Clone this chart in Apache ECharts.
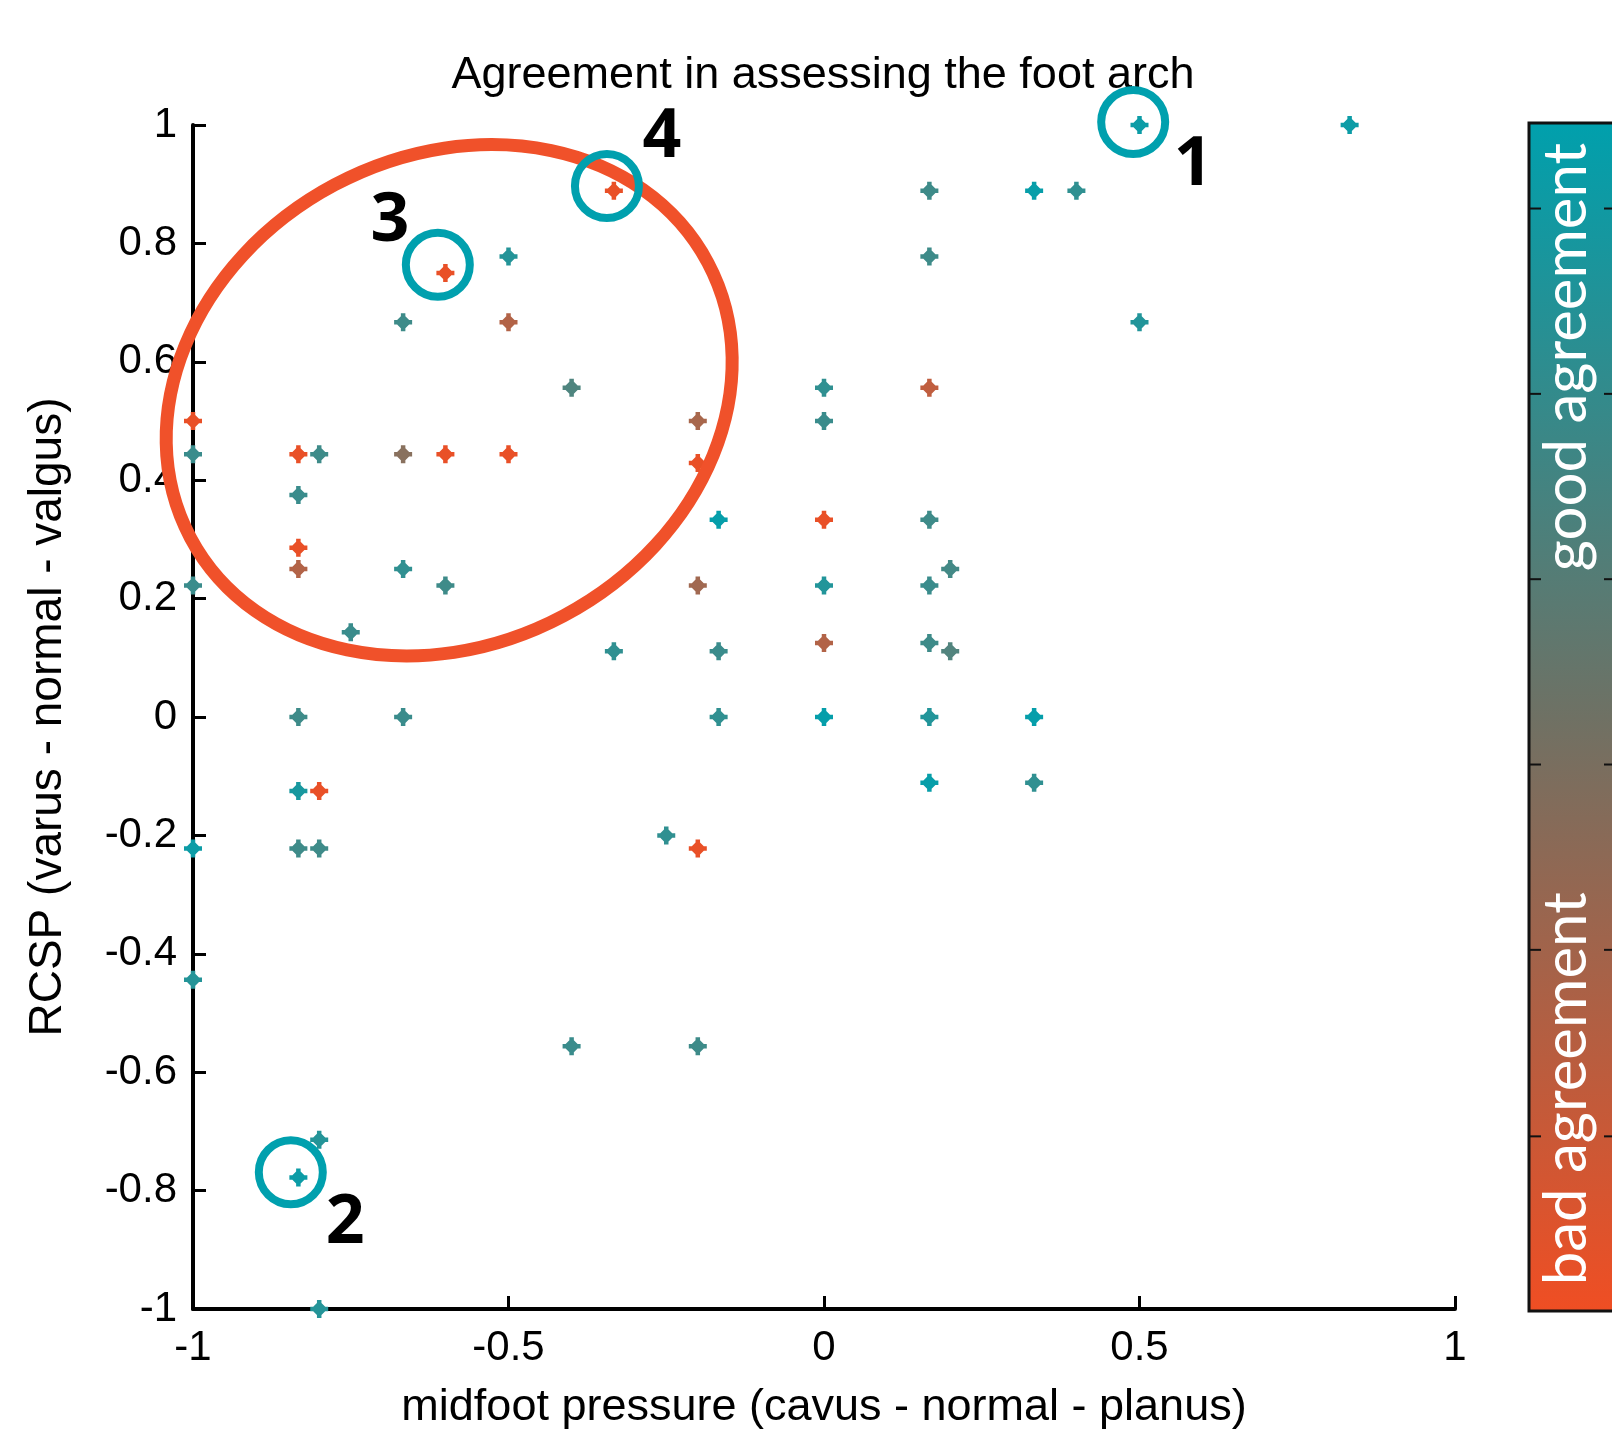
<!DOCTYPE html>
<html>
<head>
<meta charset="utf-8">
<title>Agreement in assessing the foot arch</title>
<script src="https://cdn.jsdelivr.net/npm/echarts@6/dist/echarts.min.js"></script>
<style>
	html, body { margin: 0; padding: 0; background: #fff; }
	#main { width: 1612px; height: 1430px; }
</style>
</head>
<body>
<div id="main"></div>
<script>
// midfoot pressure (x), RCSP (y), agreement (0 = bad, 1 = good)
var midfoot = [-1, -1, -1, -1, -1,
	-0.833, -0.833, -0.833, -0.833, -0.833, -0.833, -0.833, -0.833,
	-0.8, -0.8, -0.8, -0.8, -0.8, -0.75,
	-0.667, -0.667, -0.667, -0.667, -0.6, -0.6, -0.6,
	-0.5, -0.5, -0.5, -0.4, -0.4, -0.333, -0.333, -0.25,
	-0.2, -0.2, -0.2, -0.2, -0.2, -0.167, -0.167, -0.167,
	0, 0, 0, 0, 0, 0,
	0.167, 0.167, 0.167, 0.167, 0.167, 0.167, 0.167, 0.167,
	0.2, 0.2, 0.333, 0.333, 0.333, 0.4, 0.5, 0.5, 0.833];
var rcsp = [0.5, 0.444, 0.222, -0.222, -0.444,
	0.444, 0.375, 0.286, 0.25, 0, -0.125, -0.222, -0.778,
	0.444, -0.125, -0.222, -0.714, -1, 0.143,
	0.667, 0.444, 0.25, 0, 0.75, 0.444, 0.222,
	0.778, 0.667, 0.444, 0.556, -0.556, 0.889, 0.111, -0.2,
	0.5, 0.429, 0.222, -0.222, -0.556, 0.333, 0.111, 0,
	0.556, 0.5, 0.333, 0.222, 0.125, 0,
	0.889, 0.778, 0.556, 0.333, 0.222, 0.125, 0, -0.111,
	0.25, 0.111, 0.889, 0, -0.111, 0.889, 1, 0.667, 1];
var agreement = [0.03, 0.76, 0.76, 0.95, 0.85,
	0.03, 0.76, 0.03, 0.26, 0.74, 0.9, 0.74, 0.95,
	0.74, 0.03, 0.74, 0.85, 0.85, 0.76,
	0.74, 0.43, 0.8, 0.76, 0.03, 0.03, 0.74,
	0.85, 0.26, 0.03, 0.67, 0.76, 0.03, 0.8, 0.8,
	0.3, 0.03, 0.33, 0.03, 0.74, 0.98, 0.76, 0.8,
	0.8, 0.76, 0.03, 0.86, 0.26, 0.98,
	0.74, 0.74, 0.2, 0.74, 0.76, 0.74, 0.86, 0.97,
	0.72, 0.66, 0.97, 0.98, 0.8, 0.8, 0.95, 0.86, 0.95];

var xTicks = [-1, 1, 0.5];		// min, max, interval
var yTicks = [-1, 1, 0.2];

// highlighted cases (circle centre, label position) in data units
var caseNames = ['1', '2', '3', '4'];
var caseCircle = [[0.49, 1.005], [-0.845, -0.769], [-0.612, 0.764], [-0.344, 0.897]];
var caseLabel = [[0.585, 0.932], [-0.759, -0.855], [-0.688, 0.836], [-0.257, 0.978]];
var groupCentre = [-0.594, 0.535];

// colorbar ticks, fraction from the top
var barTicks = [0.072, 0.228, 0.384, 0.540, 0.696, 0.853];

var badColor = '#F04E23';
var goodColor = '#00A0AD';

var points = [];
for (var i = 0; i < midfoot.length; i++) {
	points.push([midfoot[i], rcsp[i], agreement[i]]);
}

var font = '"Liberation Sans", Arial, sans-serif';
var chart = echarts.init(document.getElementById('main'));

option = {
	backgroundColor: '#fff',
	animation: false,
	title: {
		text: 'Agreement in assessing the foot arch',
		left: 818,
		top: 48,
		textAlign: 'center',
		textStyle: { fontFamily: font, fontSize: 45, fontWeight: 'normal', color: '#000' }
	},
	grid: { left: 193, top: 125, width: 1262, height: 1184, outerBoundsMode: 'none' },
	visualMap: {
		show: false,
		type: 'continuous',
		dimension: 2,
		min: 0,
		max: 1,
		inRange: { color: [badColor, goodColor] }
	},
	xAxis: {
		type: 'value',
		min: xTicks[0], max: xTicks[1], interval: xTicks[2],
		name: 'midfoot pressure (cavus - normal - planus)',
		nameLocation: 'middle',
		nameGap: 76,
		nameTextStyle: { fontFamily: font, fontSize: 45, color: '#000' },
		axisLine: { onZero: false, lineStyle: { color: '#000', width: 4 } },
		axisTick: { inside: true, length: 13, lineStyle: { color: '#000', width: 3 } },
		axisLabel: { fontFamily: font, fontSize: 42, color: '#000', margin: 18 },
		splitLine: { show: false }
	},
	yAxis: {
		type: 'value',
		min: yTicks[0], max: yTicks[1], interval: yTicks[2],
		name: 'RCSP (varus - normal - valgus)',
		nameLocation: 'middle',
		nameGap: 122,
		nameTextStyle: { fontFamily: font, fontSize: 46, color: '#000' },
		axisLine: { onZero: false, lineStyle: { color: '#000', width: 4 } },
		axisTick: { inside: true, length: 13, lineStyle: { color: '#000', width: 3 } },
		axisLabel: { fontFamily: font, fontSize: 42, color: '#000', margin: 16 },
		splitLine: { show: false }
	},
	series: [{
		type: 'scatter',
		// chunky plus marker
		symbol: 'path://M4.5,0H7.5V2L10,4.5H12V7.5H10L7.5,10V12H4.5V10L2,7.5H0V4.5H2L4.5,2Z',
		symbolSize: 18,
		clip: false,
		itemStyle: { opacity: 1 },
		data: points
	}]
};
chart.setOption(option);

// overlays: red group ellipse, cyan circles, case numbers, colorbar
var elems = [];
var c = chart.convertToPixel({ gridIndex: 0 }, groupCentre);
elems.push({
	type: 'ellipse',
	x: c[0], y: c[1],
	rotation: 28 * Math.PI / 180,
	shape: { cx: 0, cy: 0, rx: 293, ry: 244 },
	style: { fill: 'none', stroke: '#F0512A', lineWidth: 13 },
	z: 10
});
for (var k = 0; k < caseNames.length; k++) {
	var p = chart.convertToPixel({ gridIndex: 0 }, caseCircle[k]);
	elems.push({
		type: 'circle',
		shape: { cx: p[0], cy: p[1], r: 32 },
		style: { fill: 'none', stroke: '#00A0AE', lineWidth: 8 },
		z: 11
	});
	var q = chart.convertToPixel({ gridIndex: 0 }, caseLabel[k]);
	elems.push({
		type: 'text',
		x: q[0], y: q[1],
		style: {
			text: caseNames[k], fill: '#000',
			font: 'bold 68px "Open Sans", sans-serif',
			align: 'center', verticalAlign: 'middle'
		},
		z: 11
	});
}

var top0 = chart.convertToPixel({ yAxisIndex: 0 }, yTicks[1]) - 2;
var bot0 = chart.convertToPixel({ yAxisIndex: 0 }, yTicks[0]) + 2;
var barX = 1529;
var barH = bot0 - top0;
elems.push({
	type: 'rect',
	shape: { x: barX, y: top0, width: 100, height: barH },
	style: {
		fill: new echarts.graphic.LinearGradient(0, 0, 0, 1, [
			{ offset: 0, color: goodColor },
			{ offset: 0.5, color: '#6F7164' },
			{ offset: 1, color: badColor }
		]),
		stroke: '#111', lineWidth: 3
	}
});
for (var t = 0; t < barTicks.length; t++) {
	var ty = top0 + barTicks[t] * barH;
	elems.push({ type: 'line', shape: { x1: barX, y1: ty, x2: barX + 12, y2: ty }, style: { stroke: '#111', lineWidth: 2 }, z: 5 });
	elems.push({ type: 'line', shape: { x1: 1604, y1: ty, x2: 1612, y2: ty }, style: { stroke: '#111', lineWidth: 2 }, z: 5 });
}
elems.push({
	type: 'text', x: 1567, y: top0 + 0.197 * barH, rotation: Math.PI / 2,
	style: { text: 'good agreement', fill: '#fff', font: '60px Lato, "Open Sans", sans-serif', align: 'center', verticalAlign: 'middle' },
	z: 6
});
elems.push({
	type: 'text', x: 1567, y: top0 + 0.813 * barH, rotation: Math.PI / 2,
	style: { text: 'bad agreement', fill: '#fff', font: '60px Lato, "Open Sans", sans-serif', align: 'center', verticalAlign: 'middle' },
	z: 6
});

chart.setOption({ graphic: { elements: elems } });
</script>
</body>
</html>
